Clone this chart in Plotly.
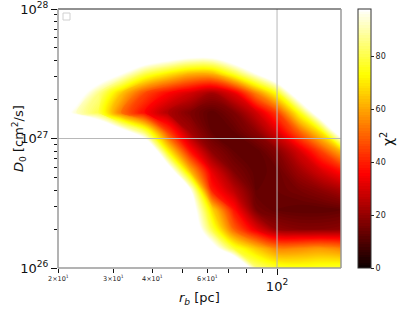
import numpy as np
import plotly.graph_objects as go

# ---- data ----
r_b = [20, 23, 27, 32, 38, 45, 53, 62, 73, 86, 100, 118, 138, 160]          # pc
logD0 = [26.0, 26.15, 26.3, 26.45, 26.6, 26.75, 26.9, 27.05, 27.2, 27.35, 27.5, 27.65, 27.8, 28.0]
D0 = [10 ** v for v in logD0]                                                # cm^2/s

chi2_rows = [
    [150, 150, 148, 145, 140, 135, 132, 128, 130, 85, 78, 76, 77, 78],       # 26.0
    [150, 148, 146, 142, 138, 130, 122, 106, 78, 65, 55, 56, 58, 55],        # 26.15
    [150, 148, 145, 140, 135, 126, 115, 80, 50, 32, 20, 18, 18, 19],         # 26.3
    [150, 148, 145, 140, 134, 122, 108, 68, 38, 16, 13, 12, 12, 13],         # 26.45
    [150, 148, 144, 138, 130, 115, 98, 40, 26, 13, 14, 16, 19, 23],          # 26.6
    [148, 146, 142, 136, 128, 109, 62, 32, 17, 12, 14, 22, 30, 38],          # 26.75
    [145, 145, 140, 132, 127, 72, 38, 19, 13, 12, 18, 30, 45, 62],           # 26.9
    [135, 140, 127, 106, 82, 45, 22, 13, 13, 19, 31, 50, 70, 110],           # 27.05
    [111, 92, 80, 52, 36, 24, 17, 12, 17, 29, 45, 75, 112, 122],             # 27.2
    [130, 106, 86, 64, 46, 36, 29, 22, 32, 55, 75, 113, 124, 132],           # 27.35
    [145, 128, 111, 98, 80, 70, 62, 62, 78, 98, 118, 128, 138, 145],         # 27.5
    [150, 140, 132, 125, 119, 112, 106, 106, 118, 120, 135, 140, 148, 155],  # 27.65
    [160, 155, 148, 140, 135, 128, 122, 120, 125, 132, 140, 148, 155, 165],  # 27.8
    [170, 165, 160, 155, 150, 145, 140, 138, 140, 145, 150, 158, 165, 175],  # 28.0
]

x_major = [100]
x_minor = [20, 30, 40, 50, 60, 70, 80, 90]
x_small_labels = {20: "2×10<sup>1</sup>", 30: "3×10<sup>1</sup>", 40: "4×10<sup>1</sup>", 60: "6×10<sup>1</sup>"}
y_major = [1e26, 1e27, 1e28]
y_minor = [k * 1e26 for k in range(2, 10)] + [k * 1e27 for k in range(2, 10)]
cbar_ticks = [0, 20, 40, 60, 80]
chi2_max = 98

# ---- layout geometry (page pixels) ----
W, H = 415, 312
L, R, T, B = 58, 341, 9, 268
pw, ph = R - L, B - T
xr = [np.log10(r_b[0]), np.log10(r_b[-1])]
yr = [26, 28]

def px2x(px):
    return (px - L) / pw

def py2y(py):
    return (B - py) / ph

hot = [[0.0, "rgb(11,0,0)"], [0.365, "rgb(255,0,0)"], [0.746, "rgb(255,255,0)"], [1.0, "rgb(255,255,255)"]]

fig = go.Figure()
fig.add_trace(go.Contour(
    x=r_b, y=D0, z=np.array(chi2_rows, dtype=float),
    colorscale=hot, zmin=0, zmax=chi2_max,
    contours=dict(start=0, end=chi2_max, size=1, coloring="fill", showlines=False),
    line=dict(width=0),
    colorbar=dict(
        x=px2x(358), xanchor="left", xref="paper", xpad=0, ypad=0,
        y=0.5, yanchor="middle", yref="paper", len=1, lenmode="fraction",
        thickness=13, outlinecolor="#333", outlinewidth=1,
        tickvals=cbar_ticks, ticks="outside", ticklen=3, tickcolor="#222",
        tickfont=dict(family="DejaVu Sans", size=8, color="#222"),
    ),
    hoverinfo="skip",
))

shapes = []
# grid lines above the fill
gx = (np.log10(100) - xr[0]) / (xr[1] - xr[0])
shapes.append(dict(type="line", xref="paper", yref="paper", x0=gx, x1=gx, y0=0, y1=1,
                   line=dict(color="#b8b8b8", width=1), layer="above"))
shapes.append(dict(type="line", xref="paper", yref="paper", x0=0, x1=1, y0=0.5, y1=0.5,
                   line=dict(color="#b8b8b8", width=1), layer="above"))
# spines
shapes.append(dict(type="line", xref="paper", yref="paper", x0=0, x1=1, y0=1, y1=1,
                   line=dict(color="#222", width=1), layer="above"))
for (a, b, c, d) in [(0, 0, 0, 1), (1, 1, 0, 1), (0, 1, 0, 0)]:
    shapes.append(dict(type="line", xref="paper", yref="paper", x0=a, x1=b, y0=c, y1=d,
                       line=dict(color="#9a9a9a", width=1.5), layer="above"))
# empty legend box
shapes.append(dict(type="rect", xref="paper", yref="paper", x0=px2x(63), x1=px2x(70), y0=py2y(20), y1=py2y(13),
                   line=dict(color="#d0d0d0", width=1), fillcolor="rgba(0,0,0,0)", layer="above"))

annotations = []
for v, txt in x_small_labels.items():
    annotations.append(dict(x=np.log10(v), xref="x", y=0, yref="paper", xanchor="center", yanchor="top", yshift=-4,
                            text=txt, showarrow=False, font=dict(family="DejaVu Sans", size=6.5, color="#222")))
annotations.append(dict(x=px2x(199), xref="paper", y=py2y(298), yref="paper", xanchor="center", yanchor="middle",
                        text="<i>r</i><sub><i>b</i></sub> [pc]",
                        showarrow=False, font=dict(family="DejaVu Sans", size=13, color="#111")))
annotations.append(dict(x=px2x(19), xref="paper", y=py2y(139), yref="paper", xanchor="center", yanchor="middle",
                        text="<i>D</i><sub>0</sub> [cm<sup>2</sup>/s]",
                        showarrow=False, textangle=-90, font=dict(family="DejaVu Sans", size=13, color="#111")))
annotations.append(dict(x=px2x(387), xref="paper", y=py2y(139), yref="paper", xanchor="center", yanchor="middle",
                        text="χ<sup>2</sup>",
                        showarrow=False, textangle=-90, font=dict(family="DejaVu Sans", size=14, color="#111")))

fig.update_layout(
    width=W, height=H, margin=dict(l=L, r=W - R, t=T, b=H - B, autoexpand=False),
    paper_bgcolor="white", plot_bgcolor="white",
    font=dict(family="DejaVu Sans", color="#111"),
    shapes=shapes, annotations=annotations, showlegend=False,
    xaxis=dict(type="log", range=xr, showgrid=False, zeroline=False, showline=False, automargin=False,
               ticklabeloverflow="allow",
               tickmode="array", tickvals=x_major, ticktext=["10<sup>2</sup>"],
               ticks="outside", ticklen=6, tickwidth=1, tickcolor="#111",
               tickfont=dict(family="DejaVu Sans", size=13, color="#111"),
               minor=dict(tickmode="array", tickvals=x_minor, ticks="outside", ticklen=3.5, tickwidth=1, tickcolor="#111", showgrid=False)),
    yaxis=dict(type="log", range=yr, showgrid=False, zeroline=False, showline=False, automargin=False,
               ticklabeloverflow="allow",
               tickmode="array", tickvals=y_major, ticktext=["10<sup>26</sup>", "10<sup>27</sup>", "10<sup>28</sup>"],
               ticks="outside", ticklen=6, tickwidth=1, tickcolor="#111",
               tickfont=dict(family="DejaVu Sans", size=13, color="#111"),
               minor=dict(tickmode="array", tickvals=y_minor, ticks="outside", ticklen=3.5, tickwidth=1, tickcolor="#111", showgrid=False)),
)

fig.write_html("out.html", config={"displayModeBar": False},
               post_script="document.body.style.margin='0px'; document.body.style.overflow='hidden';")
